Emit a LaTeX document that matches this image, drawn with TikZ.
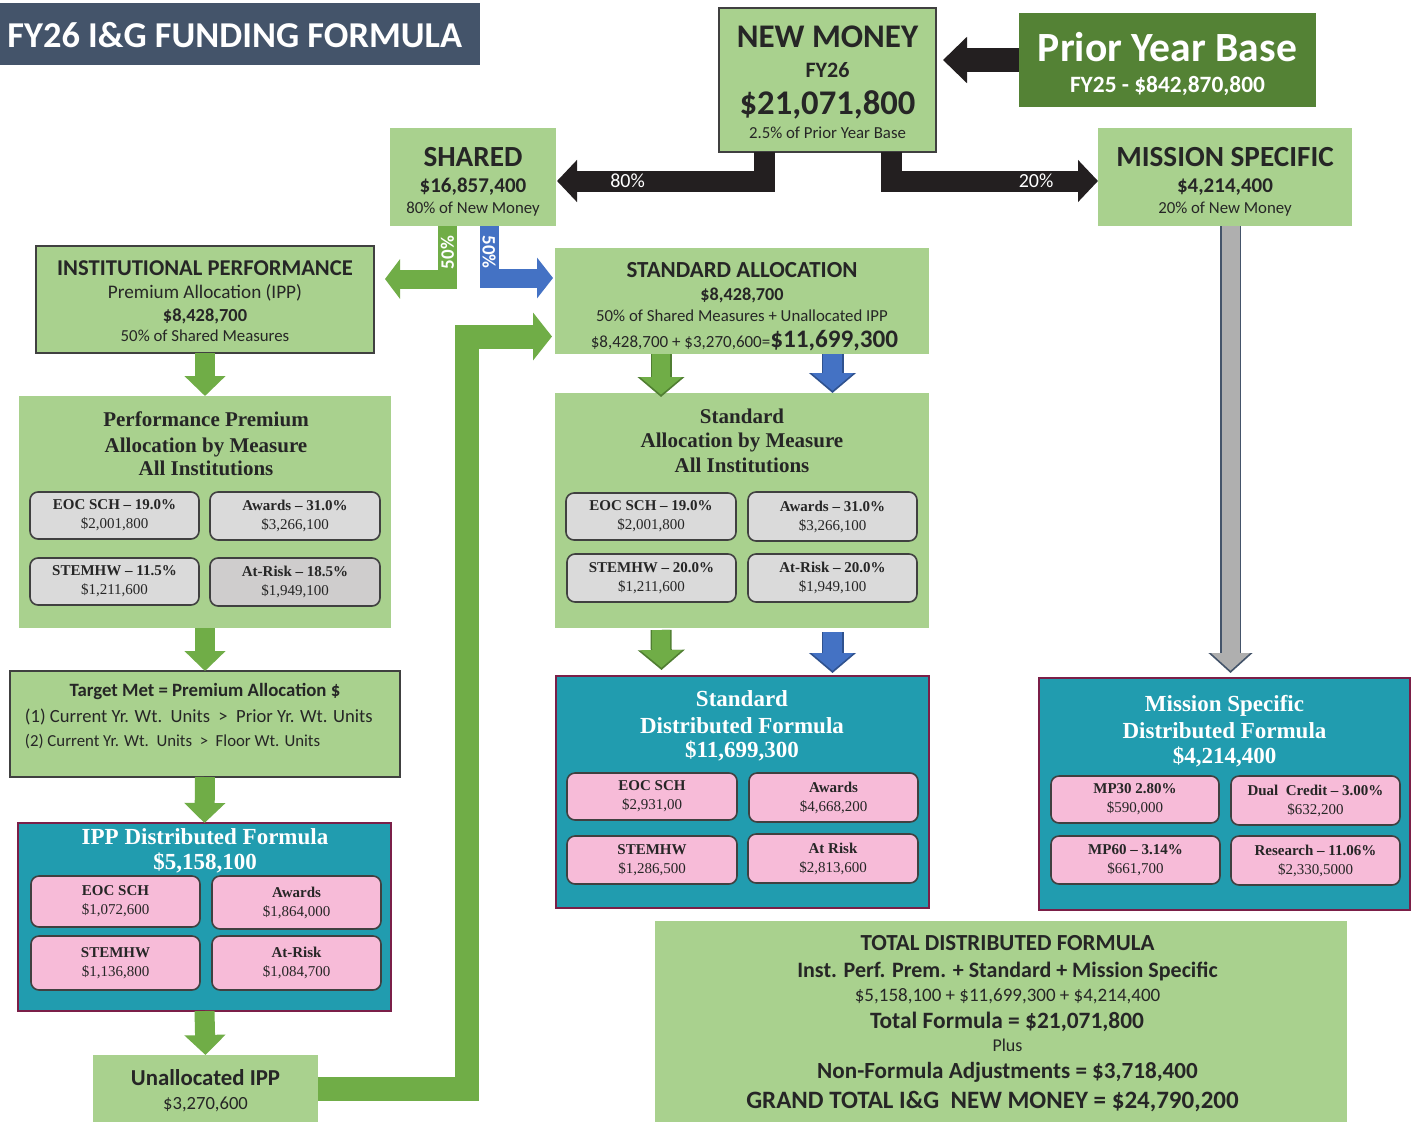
\documentclass[tikz,border=0pt]{standalone}
\usepackage{fontspec}
\setmainfont{Carlito}
\newfontfamily\tnr{Liberation Serif}
\usetikzlibrary{arrows.meta,calc}
\definecolor{fglight}{HTML}{A9D18E}
\definecolor{fgarrow}{HTML}{70AD47}
\definecolor{fgedge}{HTML}{507E32}
\definecolor{fgdark}{HTML}{548235}
\definecolor{fgteal}{HTML}{219CAF}
\definecolor{fgmaroon}{HTML}{7B1F48}
\definecolor{fgpink}{HTML}{F7BBD8}
\definecolor{fgcell}{HTML}{DADADA}
\definecolor{fgcelldk}{HTML}{CFCDCD}
\definecolor{fgslate}{HTML}{44546A}
\definecolor{fgframe}{HTML}{404040}
\definecolor{fgblack}{HTML}{231F20}
\definecolor{fgblue}{HTML}{4472C4}
\definecolor{fgbluedk}{HTML}{2F528F}
\definecolor{fggray}{HTML}{AFAFAF}
\definecolor{fgtext}{HTML}{262626}

\begin{document}
\begin{tikzpicture}[x=0.5pt, y=-0.5pt,
    every node/.style={inner sep=0pt, outer sep=0pt, text=fgtext},
    sz/.style 2 args={minimum width=#1*0.5pt, minimum height=#2*0.5pt},
    panel/.style={fill=fglight},
    framed/.style={panel, draw=fgframe, line width=0.8pt},
    tealbox/.style={fill=fgteal, draw=fgmaroon, line width=1.3pt},
    cell/.style={draw=fgframe, line width=0.8pt, rounded corners=4pt, fill=fgcell,
      align=center, font=\tnr\fontsize{7.5}{9.5}\selectfont},
    pcell/.style={cell, fill=fgpink},
    txt/.style={anchor=base, font=\fontsize{#1}{#1}\selectfont},
    serif/.style={anchor=base, font=\tnr\bfseries\fontsize{#1}{#1}\selectfont},
    blk/.style={draw=fgblack, line width=10.5pt, -{Triangle[width=20.5pt,length=10pt]}},
    garr/.style={draw=fgarrow, line width=10pt, -{Triangle[width=20pt,length=10pt]}},
    goarr/.style={draw=fgarrow, line width=9pt, shorten >=1.2pt,
      -{Triangle[width=20.5pt,length=8.8pt]},
      preaction={draw=fgedge, line width=10.5pt, shorten >=0pt, -{Triangle[width=23pt,length=10pt]}}},
    boarr/.style={draw=fgblue, line width=9.5pt, shorten >=1.2pt,
      -{Triangle[width=20.5pt,length=8.8pt]},
      preaction={draw=fgbluedk, line width=11pt, shorten >=0pt, -{Triangle[width=23pt,length=10pt]}}},
    grayarr/.style={draw=fggray, line width=9pt, shorten >=1.2pt,
      -{Triangle[width=19pt,length=8.8pt]},
      preaction={draw=fgslate, line width=10.5pt, shorten >=0pt, -{Triangle[width=21.5pt,length=10pt]}}},
  ]
  \useasboundingbox[fill=white] (0,0) rectangle (1412,1124);

  \node[fill=fgslate, sz={480}{62}] (title) at (240,34) {};
  \node[txt=18.2, anchor=base east, text=white] (titletxt) at (462,47) {\bfseries FY26 I\&G FUNDING FORMULA};

  \node[framed, sz={217}{144}] (nm) at (827.5,80) {};
  \node[txt=16.5] (nmA) at (827.5,47) {\bfseries NEW MONEY};
  \node[txt=11] (nmB) at (827.5,77) {\bfseries FY26};
  \node[txt=17.3] (nmC) at (827.5,114) {\bfseries \$21,071,800};
  \node[txt=8.4] (nmD) at (827.5,138) {2.5\% of Prior Year Base};

  \node[fill=fgdark, sz={297}{94}] (pyb) at (1167.5,60) {};
  \node[txt=20.8, text=white] (pybA) at (1167.5,61) {\bfseries Prior Year Base};
  \node[txt=11.7, text=white] (pybB) at (1167.5,92) {\bfseries FY25 - \$842,870,800};

  \node[panel, sz={166}{98}] (sh) at (473,177) {};
  \node[txt=14.6] (shA) at (473,166) {\bfseries SHARED};
  \node[txt=10.5] (shB) at (473,192) {\bfseries \$16,857,400};
  \node[txt=8.4] (shC) at (473,213) {80\% of New Money};

  \node[panel, sz={254}{98}] (ms) at (1225,177) {};
  \node[txt=14.6] (msA) at (1225,166) {\bfseries MISSION SPECIFIC};
  \node[txt=10.5] (msB) at (1225,192) {\bfseries \$4,214,400};
  \node[txt=8.4] (msC) at (1225,213) {20\% of New Money};

  \node[framed, sz={338}{107}] (ipp) at (205,299.5) {};
  \node[txt=11.3] (ippA) at (205,275) {\bfseries INSTITUTIONAL PERFORMANCE};
  \node[txt=9.6] (ippB) at (205,298) {Premium Allocation (IPP)};
  \node[txt=9.2] (ippC) at (205,321) {\bfseries \$8,428,700};
  \node[txt=8.4] (ippD) at (205,341) {50\% of Shared Measures};

  \node[panel, sz={374}{106}] (std) at (742,301) {};
  \node[txt=11.5] (stdA) at (742,277) {\bfseries STANDARD ALLOCATION};
  \node[txt=9.1] (stdB) at (742,300) {\bfseries \$8,428,700};
  \node[txt=8.4] (stdC) at (742,321) {50\% of Shared Measures + Unallocated IPP};
  \node[txt=8.5] (stdD) at (744.5,347) {\$8,428,700 + \$3,270,600={\fontsize{12.6}{12.6}\selectfont\bfseries \$11,699,300}};

  \node[panel, sz={372}{232}] (ppm) at (205,512) {};
  \node[serif=10.5] (ppmA) at (206,426) {Performance Premium};
  \node[serif=10.5] (ppmB) at (206,452) {Allocation by Measure};
  \node[serif=10.5] (ppmC) at (206,475) {All Institutions};
  \node[cell, sz={169}{47}] (p1) at (114.5,515.5) {{\bfseries EOC SCH – 19.0\%}\\ \$2,001,800};
  \node[cell, sz={170}{48}] (p2) at (295,516) {{\bfseries Awards – 31.0\%}\\ \$3,266,100};
  \node[cell, sz={169}{47}] (p3) at (114.5,581.5) {{\bfseries STEMHW – 11.5\%}\\ \$1,211,600};
  \node[cell, fill=fgcelldk, sz={170}{48}] (p4) at (295,582) {{\bfseries At-Risk – 18.5\%}\\ \$1,949,100};

  \node[panel, sz={374}{235}] (stdm) at (742,510.5) {};
  \node[serif=10.5] (stdmA) at (742,423) {Standard};
  \node[serif=10.5] (stdmB) at (742,447) {Allocation by Measure};
  \node[serif=10.5] (stdmC) at (742,472) {All Institutions};
  \node[cell, sz={170}{47}] (s1) at (651,516.5) {{\bfseries EOC SCH – 19.0\%}\\ \$2,001,800};
  \node[cell, sz={169}{49}] (s2) at (832.5,516.5) {{\bfseries Awards – 31.0\%}\\ \$3,266,100};
  \node[cell, sz={169}{48}] (s3) at (651.5,578) {{\bfseries STEMHW – 20.0\%}\\ \$1,211,600};
  \node[cell, sz={169}{48}] (s4) at (832.5,578) {{\bfseries At-Risk – 20.0\%}\\ \$1,949,100};

  \node[framed, sz={390}{106}] (tgt) at (205,724) {};
  \node[txt=9.4] (tgtA) at (205,696) {\bfseries Target Met = Premium Allocation \$};
  \node[txt=9.3, anchor=base west] (tgtB) at (25,722) {(1) Current Yr. Wt.\ \ Units\ \ >\ \ Prior Yr. Wt. Units};
  \node[txt=8.4, anchor=base west] (tgtC) at (25,746) {(2) Current Yr. Wt.\ \ Units\ \ >\ \ Floor Wt. Units};

  \node[tealbox, sz={373}{188}] (ippd) at (204.5,917) {};
  \node[serif=11.5, text=white] (ippdA) at (205,844) {IPP Distributed Formula};
  \node[serif=11.5, text=white] (ippdB) at (205,869) {\$5,158,100};
  \node[pcell, sz={169}{51}] (i1) at (115.5,901.5) {{\bfseries EOC SCH}\\ \$1,072,600};
  \node[pcell, sz={169}{53}] (i2) at (296.5,902.5) {{\bfseries Awards}\\ \$1,864,000};
  \node[pcell, sz={169}{54}] (i3) at (115.5,963) {{\bfseries STEMHW}\\ \$1,136,800};
  \node[pcell, sz={169}{54}] (i4) at (296.5,963) {{\bfseries At-Risk}\\ \$1,084,700};

  \node[panel, sz={225}{67}] (ua) at (205.5,1088.5) {};
  \node[txt=11.4] (uaA) at (205.5,1085) {\bfseries Unallocated IPP};
  \node[txt=9.3] (uaB) at (205.5,1109) {\$3,270,600};

  \node[tealbox, sz={373}{232}] (stdd) at (742.5,792) {};
  \node[serif=11.5, text=white] (stddA) at (742,706) {Standard};
  \node[serif=11.5, text=white] (stddB) at (742,733) {Distributed Formula};
  \node[serif=11.5, text=white] (stddC) at (742,757) {\$11,699,300};
  \node[pcell, sz={170}{47}] (d1) at (652,796.5) {{\bfseries EOC SCH}\\ \$2,931,00};
  \node[pcell, sz={169}{49}] (d2) at (833.5,797.5) {{\bfseries Awards}\\ \$4,668,200};
  \node[pcell, sz={170}{48}] (d3) at (652,860) {{\bfseries STEMHW}\\ \$1,286,500};
  \node[pcell, sz={170}{49}] (d4) at (833,858.5) {{\bfseries At Risk}\\ \$2,813,600};

  \node[tealbox, sz={371}{232}] (msd) at (1224.5,794) {};
  \node[serif=11.5, text=white] (msdA) at (1224.5,711) {Mission Specific};
  \node[serif=11.5, text=white] (msdB) at (1224.5,738) {Distributed Formula};
  \node[serif=11.5, text=white] (msdC) at (1224.5,763) {\$4,214,400};
  \node[pcell, sz={168}{47}] (m1) at (1135,799.5) {{\bfseries MP30 2.80\%}\\ \$590,000};
  \node[pcell, sz={169}{49}] (m2) at (1315.5,800.5) {{\bfseries Dual\ \ Credit – 3.00\%}\\ \$632,200};
  \node[pcell, sz={169}{48}] (m3) at (1135.5,860) {{\bfseries MP60 – 3.14\%}\\ \$661,700};
  \node[pcell, sz={169}{49}] (m4) at (1315.5,860.5) {{\bfseries Research – 11.06\%}\\ \$2,330,5000};

  \node[panel, sz={692}{201}] (tot) at (1001,1021.5) {};
  \node[txt=11.5] (totA) at (1007.5,950) {\bfseries TOTAL DISTRIBUTED FORMULA};
  \node[txt=11] (totB) at (1007.5,977) {\bfseries Inst. Perf. Prem. + Standard + Mission Specific};
  \node[txt=9.5] (totC) at (1007.5,1001) {\$5,158,100 + \$11,699,300 + \$4,214,400};
  \node[txt=11.7] (totD) at (1007,1028) {\bfseries Total Formula = \$21,071,800};
  \node[txt=9] (totE) at (1007.5,1051) {Plus};
  \node[txt=11.55] (totF) at (1007.5,1078) {\bfseries Non-Formula Adjustments = \$3,718,400};
  \node[txt=12.5] (totG) at (992.5,1108) {\bfseries GRAND TOTAL I\&G\ \ NEW MONEY = \$24,790,200};

  \coordinate (ptip) at (943,60);
  \coordinate (ltip) at (557,181);
  \coordinate (rtip) at (1098,181);
  \coordinate (gtip) at (385,279);
  \coordinate (btip) at (553,278);
  \coordinate (utip) at (552,336.5);

  \draw[blk, line width=12pt, -{Triangle[width=22.5pt,length=12pt]}] (pyb.west) -- (ptip);
  \draw[blk] ($(nm.south)+(-63,0)$) |- node[pos=0.83, txt=10, anchor=center, text=white] (lbl80) {80\%} (ltip);
  \draw[blk] ($(nm.south)+(64,0)$) |- node[pos=0.85, txt=10, anchor=center, text=white] (lbl20) {20\%} (rtip);
  \draw[garr, line width=9.5pt, -{Triangle[width=19.5pt,length=7.5pt]}] ($(sh.south)+(-25.5,0)$) |- node[pos=0.25, txt=9.5, anchor=center, rotate=90, text=white] (lblg) {\bfseries 50\%} (gtip);
  \draw[draw=fgblue, line width=9.5pt, -{Triangle[width=20pt,length=8pt]}] ($(sh.south)+(16,0)$) |- node[pos=0.25, txt=9.5, anchor=center, rotate=-90, text=white] (lblb) {\bfseries 50\%} (btip);

  \draw[garr] (ipp.south) -- (ppm.north);
  \draw[garr] (ppm.south) -- (tgt.north);
  \draw[garr] (tgt.south) -- (ippd.north);
  \draw[garr] (ippd.south) -- (ua.north);
  \draw[garr, line width=12pt, -{Triangle[width=23.5pt,length=9.5pt]}] (ua.east) -| ($(utip)+(-85.5,0)$) -- (utip);

  \draw[goarr] ($(std.south)+(-81,0)$) -- ($(stdm.north)+(-81,4)$);
  \draw[boarr] ($(std.south)+(90.5,0)$) -- ($(stdm.north)+(90.5,0)$);
  \draw[goarr] ($(stdm.south)+(-81,2)$) -- ($(stdd.north)+(-81,-6)$);
  \draw[boarr] ($(stdm.south)+(90.5,4)$) -- ($(stdd.north)+(90,-3)$);
  \draw[grayarr] ($(ms.south)+(5.5,0)$) -- ($(msd.north)+(6,-5)$);
\end{tikzpicture}
\end{document}
